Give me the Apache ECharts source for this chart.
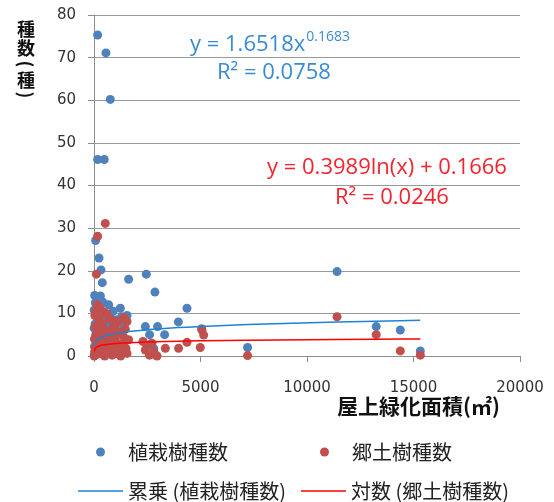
<!DOCTYPE html>
<html>
<head>
<meta charset="utf-8">
<script src="https://cdn.jsdelivr.net/npm/echarts@6/dist/echarts.min.js"></script>
<style>
  html, body { margin: 0; padding: 0; background: #fff; }
  #chart { width: 554px; height: 502px; }
</style>
</head>
<body>
<div id="chart"></div>
<script>
// 植栽樹種数 (planted species) — roof greening area (m2) vs species count
const plantedX = [170, 560, 765, 170, 480, 75, 235, 330, 390, 1625, 2455, 2860, 4365, 3960, 2410, 2985, 2610, 3315, 5050, 2800, 7210, 11410, 13250, 14380, 15320,
  30, 120, 300, 60, 180, 420, 690, 1235, 900, 250, 1550, 1300, 100, 520, 800, 1100, 350, 1450, 50, 640, 980, 1400, 200, 760, 1200, 400, 80, 1000, 560, 1500, 300, 150, 900, 20, 600, 1300, 250, 50, 1100, 10, 10];
const plantedY = [75.3, 71.1, 60.2, 46.1, 46.1, 27.1, 23, 20.2, 17.2, 18, 19.2, 15, 11.2, 8, 6.9, 6.9, 5, 5, 6.4, 1.8, 2, 19.8, 6.9, 6.1, 1.2,
  14.2, 13.8, 14.1, 12.5, 11.8, 12.6, 12, 11.2, 10.5, 10.2, 9.5, 9.2, 9.8, 9.5, 8.8, 8.5, 8.2, 7.8, 7.5, 7.2, 6.8, 6.5, 6.2, 5.8, 5.5, 5.2, 4.8, 4.5, 4.2, 3.8, 3.5, 3, 2.5, 2.2, 2, 1.5, 1.2, 0.8, 0.5, 6.5, 10.8];

// 郷土樹種数 (native species)
const nativeX = [530, 170, 110, 2300, 2490, 2800, 2960, 3350, 3970, 4365, 4990, 5070, 5150, 2410, 2720, 2600, 2900, 7210, 11410, 13250, 14380, 15320,
  150, 80, 300, 500, 40, 230, 700, 1550, 1100, 380, 60, 900, 1470, 250, 600, 1200, 100, 800, 1390, 450, 20, 1000, 1625, 300, 700, 150, 1300, 550, 50, 900, 1500, 400, 200, 1100, 30, 650, 1550, 350, 100, 850, 1250, 500, 10,
  250, 420, 620, 850, 1000, 1200, 1400, 180, 330, 760, 1050];
const nativeY = [31.1, 28.1, 19.2, 3.4, 2.6, 1, 0, 1.8, 1.8, 3.2, 2, 6.1, 4.9, 1.4, 3, 0.2, 0.2, 0.1, 9.2, 5, 1.2, 0.2,
  12, 10.5, 11.2, 10.2, 9.5, 9, 8.8, 8.1, 7.8, 7.5, 7, 6.8, 6.3, 6.2, 5.8, 5.5, 5.2, 5, 4.5, 4.2, 4, 3.9, 3.8, 3.5, 3.2, 3, 2.8, 2.5, 2.2, 2, 1.8, 1.6, 1.3, 1.1, 1, 0.8, 0.6, 0.5, 0.3, 0.2, 0, 0, 0,
  7.8, 6.5, 9.8, 4.0, 8.2, 2.0, 9.0, 5.5, 1.8, 3.6, 6.0];

// trendline coefficients as printed on the chart
const powerA = 1.6518, powerB = 0.1683, powerR2 = '0.0758';
const logA = 0.3989, logB = 0.1666, logR2 = '0.0246';

const xTicks = [0, 5000, 10000, 15000, 20000];
const yTicks = [0, 10, 20, 30, 40, 50, 60, 70, 80];

const pair = (xs, ys) => xs.map((x, i) => [x, ys[i]]);
const sortedX = (xs) => Array.from(new Set(xs)).filter((x) => x > 0).sort((a, b) => a - b);

const powerLine = sortedX(plantedX).map((x) => [x, powerA * Math.pow(x, powerB)]);
const logLine = sortedX(nativeX).map((x) => [x, logA * Math.log(x) + logB]);

const chart = echarts.init(document.getElementById('chart'));
const axisFont = { color: '#333', fontFamily: 'DejaVu Sans', fontSize: 15 };
const legendText = { color: '#222', fontFamily: 'Noto Sans CJK JP', fontSize: 20, lineHeight: 22 };
const eqFont = 'Open Sans';
const blueText = '#3A8BD4';
const redText = '#F2242E';

function legendAt(name, left, top, icon) {
  return {
    data: [{ name: name, icon: icon }],
    left: left,
    top: top,
    padding: 0,
    itemWidth: 45,
    itemHeight: icon === 'circle' ? 9 : 1.6,
    itemGap: 0,
    textStyle: legendText,
  };
}

function yNameChar(text, y, isParen) {
  return {
    type: 'text',
    x: 26, y: y,
    rotation: isParen ? -Math.PI / 2 : 0,
    style: {
      text: text,
      x: 0, y: 0,
      align: 'center',
      verticalAlign: 'middle',
      font: 'bold 18px "Noto Sans CJK JP"',
      fill: '#111',
    },
  };
}

chart.setOption({
  animation: false,
  backgroundColor: '#fff',
  grid: { left: 94, right: 34, top: 15, bottom: 146 },
  legend: [
    legendAt('植栽樹種数', 96, 441, 'circle'),
    legendAt('郷土樹種数', 320, 441, 'circle'),
    legendAt('累乗 (植栽樹種数)', 78, 480, 'rect'),
    legendAt('対数 (郷土樹種数)', 301, 480, 'rect'),
  ],
  xAxis: {
    type: 'value',
    min: xTicks[0],
    max: xTicks[xTicks.length - 1],
    interval: 5000,
    axisLine: { lineStyle: { color: '#8c8c8c', width: 1 } },
    axisTick: { show: true, length: 6, lineStyle: { color: '#8c8c8c' } },
    axisLabel: { ...axisFont, margin: 25, formatter: (v) => String(v) },
    splitLine: { show: false },
  },
  yAxis: {
    type: 'value',
    min: yTicks[0],
    max: yTicks[yTicks.length - 1],
    interval: 10,
    axisLine: { show: true, lineStyle: { color: '#8c8c8c', width: 1 } },
    axisTick: { show: true, length: 6, lineStyle: { color: '#8c8c8c' } },
    axisLabel: { ...axisFont, margin: 18 },
    splitLine: { lineStyle: { color: '#9a9a9a', width: 1 } },
  },
  series: [
    {
      name: '植栽樹種数',
      type: 'scatter',
      symbolSize: 9,
      itemStyle: { color: '#4F81BD', opacity: 1 },
      data: pair(plantedX, plantedY),
      z: 2,
    },
    {
      name: '郷土樹種数',
      type: 'scatter',
      symbolSize: 9,
      itemStyle: { color: '#C0504D', opacity: 1 },
      data: pair(nativeX, nativeY),
      z: 3,
    },
    {
      name: '累乗 (植栽樹種数)',
      type: 'line',
      symbol: 'none',
      lineStyle: { color: '#1F82D3', width: 1.5 },
      itemStyle: { color: '#1F82D3' },
      data: powerLine,
      z: 4,
    },
    {
      name: '対数 (郷土樹種数)',
      type: 'line',
      symbol: 'none',
      lineStyle: { color: '#FF0000', width: 1.5 },
      itemStyle: { color: '#FF0000' },
      data: logLine,
      z: 4,
    },
  ],
  graphic: [
    // y axis name, written vertically
    yNameChar('種', 29, false),
    yNameChar('数', 48, false),
    yNameChar('(', 64, true),
    yNameChar('種', 80, false),
    yNameChar(')', 95, true),
    // x axis name
    {
      type: 'text', right: 54, top: 396,
      style: { text: '屋上緑化面積(㎡)', font: 'bold 21px "Noto Sans CJK JP"', fill: '#111' },
    },
    // power trendline label
    {
      type: 'text', left: 190, top: 30,
      style: {
        text: '{m|y = ' + powerA + 'x}{s|' + powerB + '}',
        rich: {
          m: { fontFamily: eqFont, fontSize: 22, fill: blueText, lineHeight: 30 },
          s: { fontFamily: eqFont, fontSize: 14, fill: blueText, verticalAlign: 'top', lineHeight: 30, padding: [0, 0, 0, 1] },
        },
      },
    },
    {
      type: 'text', left: 217, top: 62,
      style: { text: 'R² = ' + powerR2, font: '22px "' + eqFont + '"', fill: blueText },
    },
    // log trendline label
    {
      type: 'text', left: 267, top: 157,
      style: { text: 'y = ' + logA + 'ln(x) + ' + logB, font: '22px "' + eqFont + '"', fill: redText },
    },
    {
      type: 'text', left: 335, top: 187,
      style: { text: 'R² = ' + logR2, font: '22px "' + eqFont + '"', fill: redText },
    },
  ],
});
</script>
</body>
</html>
